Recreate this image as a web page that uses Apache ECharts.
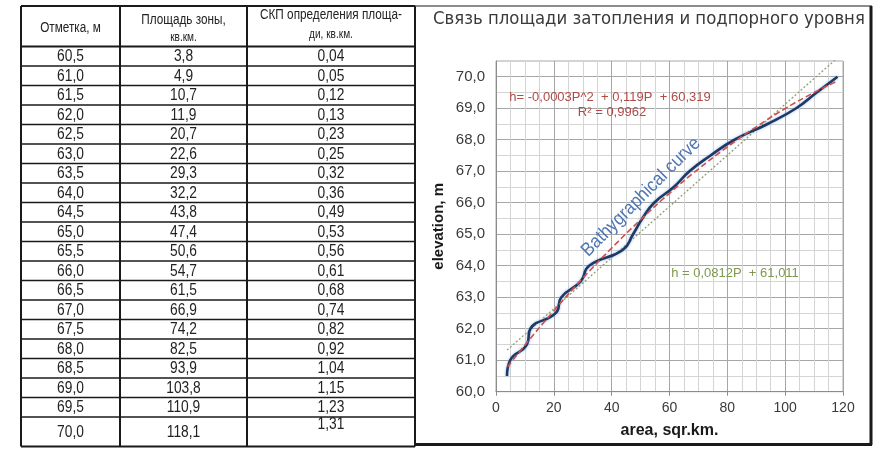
<!DOCTYPE html>
<html><head><meta charset="utf-8">
<script src="https://cdn.jsdelivr.net/npm/echarts@6/dist/echarts.min.js"></script>
<style>html,body{margin:0;padding:0;background:#fff}#c{width:886px;height:453px}</style>
</head><body><div id="c"></div>
<script>
// ---- data ----
const elevation = [60.5,61.0,61.5,62.0,62.5,63.0,63.5,64.0,64.5,65.0,65.5,66.0,66.5,67.0,67.5,68.0,68.5,69.0,69.5,70.0];
const area = [3.8,4.9,10.7,11.9,20.7,22.6,29.3,32.2,43.8,47.4,50.6,54.7,61.5,66.9,74.2,82.5,93.9,103.8,110.9,118.1];
const rmse = [0.04,0.05,0.12,0.13,0.23,0.25,0.32,0.36,0.49,0.53,0.56,0.61,0.68,0.74,0.82,0.92,1.04,1.15,1.23,1.31];
// polynomial trend line
const polyArea = [4,10,20,30,40,50,60,70,80,90,100,110,118];
const polyElev = [60.79,61.48,62.57,63.60,64.56,65.46,66.30,67.07,67.77,68.41,68.99,69.50,69.86];
// linear trend line
const linArea = [3.8,118.1];
const linElev = [61.32,70.6];
const headers = ['Отметка, м', ['Площадь зоны,', 'кв.км.'], ['СКП определения площа-', 'ди, кв.км.']];
const title = 'Связь площади затопления и подпорного уровня';
const xName = 'area, sqr.km.';
const yName = 'elevation, m';
const polyLabel = ['h= -0,0003P^2  + 0,119P  + 60,319', 'R² = 0,9962'];
const linLabel = 'h = 0,0812P  + 61,011';
const curveLabel = 'Bathygraphical curve';

const comma = (v, d) => v.toFixed(d).replace('.', ',');

// ---- table drawn as graphic ----
const colX = [21, 120, 247, 415];
const top0 = 6, headBot = 46.5, rowH = 19.5, tblBot = 446.5;
const tFont = '"Liberation Sans",Arial,sans-serif';
const g = [];
function line(x1,y1,x2,y2,w){ g.push({type:'line',shape:{x1,y1,x2,y2},style:{stroke:'#1a1a1a',lineWidth:w},silent:true}); }
function text(x,y,s,size,sx){ g.push({type:'text',x,y,scaleX:sx,scaleY:1,style:{text:s,font:size+'px '+tFont,fill:'#222',align:'center',verticalAlign:'middle'},silent:true}); }
colX.forEach(x => line(x, top0, x, tblBot, 2));
line(colX[0], top0, colX[3], top0, 2);
line(colX[0], headBot, colX[3], headBot, 2);
for (let i = 1; i < elevation.length; i++) line(colX[0], headBot + i*rowH, colX[3], headBot + i*rowH, 1.6);
line(colX[0], tblBot, colX[3], tblBot, 2);
const cx = [(colX[0]+colX[1])/2, (colX[1]+colX[2])/2, (colX[2]+colX[3])/2];
text(cx[0], 28.5, headers[0], 14, 0.84);
text(cx[1], 20.5, headers[1][0], 14, 0.84); text(cx[1], 37.5, headers[1][1], 12, 0.84);
text(cx[2], 15, headers[2][0], 14, 0.84); text(cx[2], 34.5, headers[2][1], 12, 0.84);
for (let i = 0; i < elevation.length; i++) {
  const last = i === elevation.length - 1;
  const yc = last ? 433 : headBot + i*rowH + rowH/2 + 0.5;
  text(cx[0], yc, comma(elevation[i],1), 16, 0.86);
  text(cx[1], yc, comma(area[i],1), 16, 0.86);
  text(cx[2], last ? 425 : yc, comma(rmse[i],2), 16, 0.86);
}
// chart frame
line(415, 6, 872, 6, 1.2);
line(871, 6, 871, 445, 3);
line(415, 444.5, 872, 444.5, 3);
// title
g.push({type:'text',x:433,y:19,scaleX:1.02,style:{text:title,font:'18px "DejaVu Sans Condensed","DejaVu Sans",sans-serif',fill:'#3a3a3a',align:'left',verticalAlign:'middle'},silent:true});
// annotations
const aFont = '13px "Liberation Sans","Arial",sans-serif';
g.push({type:'text',x:610,y:97,style:{text:polyLabel[0],font:aFont,fill:'#b04a45',align:'center',verticalAlign:'middle'},silent:true,z:10});
g.push({type:'text',x:612,y:112,style:{text:polyLabel[1],font:aFont,fill:'#b04a45',align:'center',verticalAlign:'middle'},silent:true,z:10});
g.push({type:'text',x:735,y:273,style:{text:linLabel,font:aFont,fill:'#7f9a4e',align:'center',verticalAlign:'middle'},silent:true,z:10});
g.push({type:'text',x:641,y:197,rotation:Math.PI/4,scaleX:0.9,style:{text:curveLabel,font:'19px "Liberation Sans",sans-serif',fill:'#4f76b3',align:'center',verticalAlign:'middle'},silent:true,z:10});

const chart = echarts.init(document.getElementById('c'), null, {renderer:'canvas'});
const lblFont = {fontFamily:'"Liberation Sans",Arial,sans-serif', fontSize:14, color:'#3a3a3a'};
chart.setOption({
  animation:false,
  backgroundColor:'#fff',
  grid:{left:496, top:61, right:43, bottom:61.3, show:true, borderColor:'#a6a6a6', borderWidth:1},
  xAxis:{type:'value', min:0, max:120, interval:20,
    name:xName, nameLocation:'middle', nameGap:31,
    nameTextStyle:{fontFamily:'"Liberation Sans",Arial,sans-serif', fontSize:16, fontWeight:'bold', color:'#1a1a1a'},
    axisLine:{show:true, lineStyle:{color:'#8c8c8c'}},
    axisTick:{show:true, length:4, lineStyle:{color:'#8c8c8c'}},
    axisLabel:Object.assign({margin:9}, lblFont),
    splitLine:{show:true, lineStyle:{color:'#a6a6a6', width:1}},
    minorTick:{show:false, splitNumber:4},
    minorSplitLine:{show:true, lineStyle:{color:'#d4d4d4', width:1}}
  },
  yAxis:{type:'value', min:60, max:70.5, interval:0.5,
    name:yName, nameLocation:'middle', nameGap:50, nameRotate:90,
    nameTextStyle:{fontFamily:'"Liberation Sans",Arial,sans-serif', fontSize:15, fontWeight:'bold', color:'#1a1a1a'},
    axisLine:{show:true, lineStyle:{color:'#8c8c8c'}},
    axisTick:{show:false},
    axisLabel:Object.assign({margin:11, formatter:v => (Math.abs(v - Math.round(v)) < 1e-9 && v <= 70) ? comma(v,1) : ''}, lblFont, {fontSize:15}),
    splitLine:{show:true, lineStyle:{color:['#a6a6a6','#d4d4d4'], width:1}}
  },
  graphic:g,
  series:[
    {type:'line', name:'linear', data:linArea.map((x,i)=>[x,linElev[i]]), showSymbol:false, clip:true,
      lineStyle:{color:'#8ea070', width:1.3, type:[2,2]}, z:3},
    {type:'line', name:'curve', data:area.map((x,i)=>[x,elevation[i]]), showSymbol:false, smooth:0.5, clip:true,
      lineStyle:{color:'#1f3864', width:2.6, shadowColor:'rgba(120,170,230,0.8)', shadowBlur:3}, z:4},
    {type:'line', name:'poly', data:polyArea.map((x,i)=>[x,polyElev[i]]), showSymbol:false, smooth:true, clip:true,
      lineStyle:{color:'#d0504a', width:1.6, type:[6,3]}, z:5}
  ]
});
</script></body></html>
